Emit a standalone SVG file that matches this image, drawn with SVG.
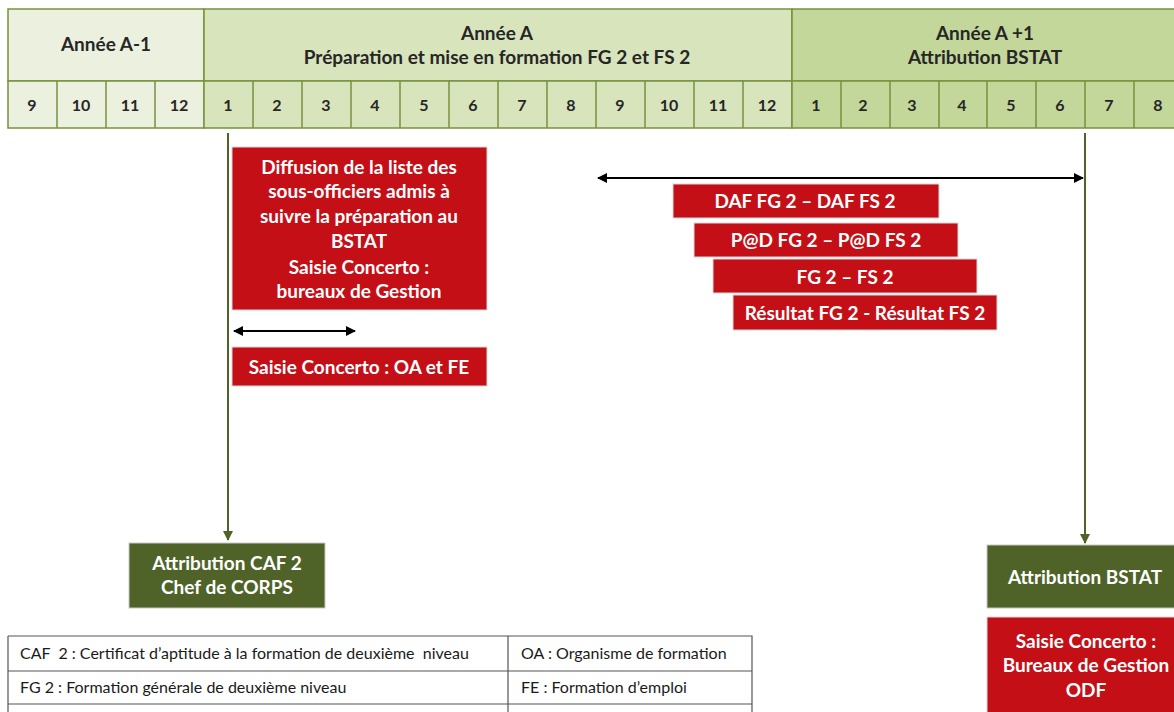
<svg xmlns="http://www.w3.org/2000/svg" width="1174" height="712" viewBox="0 0 1174 712">
<defs>
<style>
.hdr{stroke:#77933c;stroke-width:1.5}
.t{font-family:Lato,"Liberation Sans",sans-serif;font-weight:bold;text-anchor:middle}
.th{font-size:19px;fill:#262626}
.tm{font-size:16px;fill:#262626}
.tw{font-size:19px;fill:#fff}
.red{fill:#c40f17;stroke:#d9d9d9;stroke-width:1}
.grn{fill:#4f6228;stroke:#c8c8c8;stroke-width:1}
.tab{font-family:Lato,"Liberation Sans",sans-serif;font-size:16px;fill:#1a1a1a;white-space:pre}
.vl{stroke:#4f6228;stroke-width:2;fill:none}
.hl{stroke:#000;stroke-width:2;fill:none}
</style>
<marker id="ab" viewBox="0 0 10 10" refX="9" refY="5" markerWidth="5" markerHeight="5" orient="auto-start-reverse"><path d="M0,0 L10,5 L0,10 z" fill="#000"/></marker>
<marker id="ag" viewBox="0 0 10 10" refX="9" refY="5" markerWidth="5" markerHeight="5" orient="auto"><path d="M0,0 L10,5 L0,10 z" fill="#4f6228"/></marker>
</defs>
<rect width="1174" height="712" fill="#fff"/>
<g id="header">
<rect class="hdr" x="8" y="9" width="196" height="72" fill="#ebf1de"/>
<rect class="hdr" x="204" y="9" width="588" height="72" fill="#d8e4bc"/>
<rect class="hdr" x="792" y="9" width="391" height="72" fill="#c4d79b"/>
<rect class="hdr" x="8" y="81" width="196" height="47" fill="#ebf1de"/>
<rect class="hdr" x="204" y="81" width="588" height="47" fill="#d8e4bc"/>
<rect class="hdr" x="792" y="81" width="391" height="47" fill="#c4d79b"/>
<path class="hdr" d="M57,81V128M106,81V128M155,81V128M253,81V128M302,81V128M351,81V128M400,81V128M449,81V128M498,81V128M547,81V128M596,81V128M645,81V128M694,81V128M743,81V128M841,81V128M890,81V128M939,81V128M987,81V128M1036,81V128M1085,81V128M1134,81V128"/>
<text class="t th" x="106" y="51">Année A-1</text>
<text class="t th" x="497" y="40">Année A</text>
<text class="t th" x="497" y="64">Préparation et mise en formation FG 2 et FS 2</text>
<text class="t th" x="985" y="40">Année A +1</text>
<text class="t th" x="985" y="64">Attribution BSTAT</text>
<g class="t tm">
<text x="32" y="111">9</text><text x="81" y="111">10</text><text x="130" y="111">11</text><text x="179" y="111">12</text>
<text x="228" y="111">1</text><text x="277" y="111">2</text><text x="326" y="111">3</text><text x="375" y="111">4</text>
<text x="424" y="111">5</text><text x="473" y="111">6</text><text x="522" y="111">7</text><text x="571" y="111">8</text>
<text x="620" y="111">9</text><text x="669" y="111">10</text><text x="718" y="111">11</text><text x="767" y="111">12</text>
<text x="816" y="111">1</text><text x="863" y="111">2</text><text x="912" y="111">3</text><text x="962" y="111">4</text>
<text x="1011" y="111">5</text><text x="1060" y="111">6</text><text x="1109" y="111">7</text><text x="1158" y="111">8</text>
</g>
</g>
<g id="connectors">
<path class="vl" d="M228,133V540" marker-end="url(#ag)"/>
<path class="vl" d="M1085,133V543" marker-end="url(#ag)"/>
<path class="hl" d="M234,331H355" marker-start="url(#ab)" marker-end="url(#ab)"/>
<path class="hl" d="M598,178H1083" marker-start="url(#ab)" marker-end="url(#ab)"/>
</g>
<g id="diffusion">
<rect class="red" x="232" y="147" width="255" height="163"/>
<g class="t tw">
<text x="359" y="174">Diffusion de la liste des</text>
<text x="359" y="198">sous-officiers admis à</text>
<text x="359" y="223">suivre la préparation au</text>
<text x="359" y="248">BSTAT</text>
<text x="359" y="274">Saisie Concerto :</text>
<text x="359" y="298">bureaux de Gestion</text>
</g>
</g>
<g id="saisie-oa-fe">
<rect class="red" x="232" y="347" width="255" height="39"/>
<text class="t tw" x="359" y="374">Saisie Concerto : OA et FE</text>
</g>
<g id="daf">
<rect class="red" x="673" y="184" width="266" height="34"/>
<text class="t tw" x="805" y="208">DAF FG 2 – DAF FS 2</text>
</g>
<g id="pad">
<rect class="red" x="694" y="223" width="264" height="34"/>
<text class="t tw" x="826" y="247">P@D FG 2 – P@D FS 2</text>
</g>
<g id="fg2fs2">
<rect class="red" x="713" y="259" width="264" height="34"/>
<text class="t tw" x="845" y="284">FG 2 – FS 2</text>
</g>
<g id="resultat">
<rect class="red" x="733" y="295" width="264" height="35"/>
<text class="t tw" x="865" y="320">Résultat FG 2 - Résultat FS 2</text>
</g>
<g id="caf2">
<rect class="grn" x="129" y="543" width="196" height="65"/>
<text class="t tw" x="227" y="570">Attribution CAF 2</text>
<text class="t tw" x="227" y="594">Chef de CORPS</text>
</g>
<g id="bstat">
<rect class="grn" x="987" y="545" width="190" height="63"/>
<text class="t tw" x="1085" y="584">Attribution BSTAT</text>
</g>
<g id="saisie-odf">
<rect class="red" x="987" y="617" width="190" height="100"/>
<text class="t tw" x="1086" y="648">Saisie Concerto :</text>
<text class="t tw" x="1086" y="672">Bureaux de Gestion</text>
<text class="t tw" x="1086" y="697">ODF</text>
</g>
<g id="legend">
<path d="M8,636H752V716M8,636V716M8,671H752M8,704H752M508,636V716" stroke="#555" stroke-width="1.2" fill="none"/>
<text class="tab" x="20" y="659">CAF  2 : Certificat d’aptitude à la formation de deuxième  niveau</text>
<text class="tab" x="521" y="659">OA : Organisme de formation</text>
<text class="tab" x="20" y="693">FG 2 : Formation générale de deuxième niveau</text>
<text class="tab" x="521" y="693">FE : Formation d’emploi</text>
</g>
</svg>
